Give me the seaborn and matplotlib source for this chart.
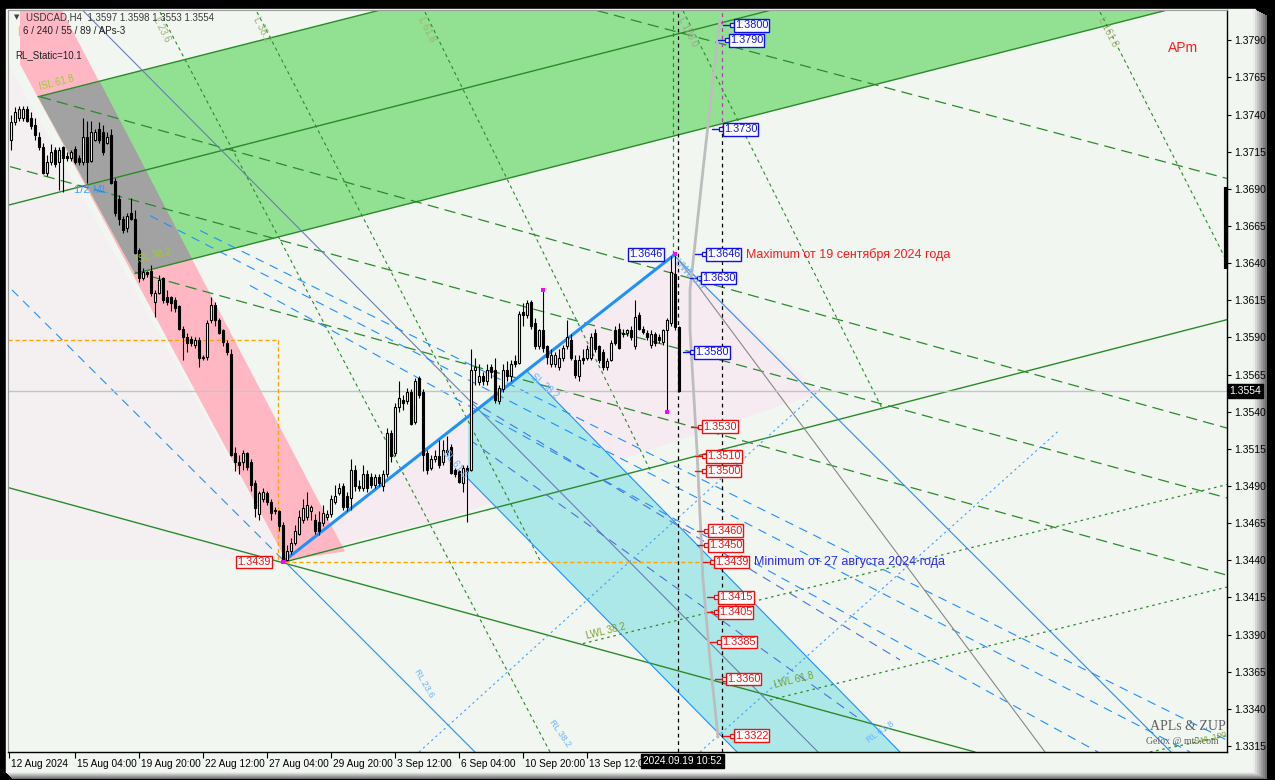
import numpy as np
import pandas as pd
import seaborn as sns
import matplotlib
matplotlib.use("Agg")
import matplotlib.pyplot as plt
from matplotlib.patches import Polygon, Rectangle
import matplotlib.transforms as mtransforms

# USDCAD H4 candles, first candle sits on bar 3 (4 px per bar)
opens = [
    1.3723, 1.3735, 1.3738, 1.3738, 1.3744, 1.3738, 1.3733, 1.3725, 1.3718, 1.3701, 1.3708, 1.3716,
    1.3708, 1.3718, 1.3712, 1.3711, 1.3717, 1.3711, 1.3708, 1.3725, 1.3709, 1.3723, 1.3730, 1.3728,
    1.3721, 1.3726, 1.3695, 1.3683, 1.3670, 1.3664, 1.3674, 1.3670, 1.3649, 1.3630, 1.3634, 1.3635,
    1.3614, 1.3620, 1.3630, 1.3617, 1.3617, 1.3615, 1.3611, 1.3596, 1.3590, 1.3589, 1.3585, 1.3588,
    1.3577, 1.3577, 1.3602, 1.3612, 1.3602, 1.3595, 1.3586, 1.3579, 1.3512, 1.3506, 1.3506, 1.3512,
    1.3506, 1.3492, 1.3471, 1.3481, 1.3485, 1.3479, 1.3474, 1.3473, 1.3464, 1.3440, 1.3446, 1.3452,
    1.3458, 1.3467, 1.3469, 1.3473, 1.3467, 1.3466, 1.3465, 1.3469, 1.3471, 1.3479, 1.3485, 1.3490,
    1.3483, 1.3482, 1.3501, 1.3490, 1.3489, 1.3498, 1.3496, 1.3491, 1.3496, 1.3490, 1.3498, 1.3526,
    1.3512, 1.3543, 1.3548, 1.3547, 1.3553, 1.3533, 1.3563, 1.3553, 1.3512, 1.3502, 1.3508, 1.3510,
    1.3506, 1.3514, 1.3516, 1.3501, 1.3500, 1.3492, 1.3502, 1.3501, 1.3568, 1.3560, 1.3564, 1.3561,
    1.3570, 1.3568, 1.3547, 1.3555, 1.3568, 1.3564, 1.3574, 1.3573, 1.3607, 1.3605, 1.3614, 1.3600,
    1.3584, 1.3595, 1.3584, 1.3572, 1.3572, 1.3570, 1.3576, 1.3584, 1.3588, 1.3575, 1.3564, 1.3576,
    1.3576, 1.3576, 1.3593, 1.3584, 1.3580, 1.3570, 1.3575, 1.3595, 1.3596, 1.3593, 1.3593, 1.3595,
    1.3584, 1.3605, 1.3596, 1.3593, 1.3585, 1.3592, 1.3590, 1.3587, 1.3595, 1.3600, 1.3633, 1.3597,
]
highs = [
    1.3740, 1.3745, 1.3746, 1.3746, 1.3746, 1.3742, 1.3738, 1.3728, 1.3721, 1.3713, 1.3720, 1.3718,
    1.3718, 1.3719, 1.3715, 1.3716, 1.3719, 1.3713, 1.3738, 1.3736, 1.3736, 1.3730, 1.3735, 1.3733,
    1.3728, 1.3730, 1.3697, 1.3686, 1.3672, 1.3674, 1.3684, 1.3676, 1.3650, 1.3637, 1.3635, 1.3639,
    1.3622, 1.3632, 1.3631, 1.3622, 1.3618, 1.3617, 1.3612, 1.3598, 1.3593, 1.3591, 1.3590, 1.3590,
    1.3578, 1.3602, 1.3617, 1.3614, 1.3603, 1.3596, 1.3588, 1.3582, 1.3516, 1.3511, 1.3514, 1.3513,
    1.3508, 1.3494, 1.3487, 1.3489, 1.3487, 1.3481, 1.3476, 1.3474, 1.3466, 1.3450, 1.3455, 1.3464,
    1.3474, 1.3481, 1.3486, 1.3477, 1.3471, 1.3473, 1.3477, 1.3474, 1.3484, 1.3491, 1.3492, 1.3492,
    1.3486, 1.3508, 1.3504, 1.3494, 1.3504, 1.3501, 1.3499, 1.3498, 1.3498, 1.3501, 1.3529, 1.3528,
    1.3546, 1.3561, 1.3551, 1.3556, 1.3555, 1.3563, 1.3564, 1.3555, 1.3514, 1.3511, 1.3514, 1.3521,
    1.3521, 1.3524, 1.3518, 1.3502, 1.3501, 1.3504, 1.3504, 1.3582, 1.3576, 1.3572, 1.3567, 1.3572,
    1.3572, 1.3576, 1.3558, 1.3572, 1.3574, 1.3575, 1.3578, 1.3608, 1.3613, 1.3615, 1.3615, 1.3603,
    1.3596, 1.3622, 1.3585, 1.3582, 1.3580, 1.3582, 1.3585, 1.3602, 1.3592, 1.3578, 1.3578, 1.3582,
    1.3585, 1.3593, 1.3596, 1.3585, 1.3582, 1.3576, 1.3588, 1.3598, 1.3600, 1.3596, 1.3596, 1.3598,
    1.3615, 1.3607, 1.3598, 1.3595, 1.3595, 1.3594, 1.3592, 1.3596, 1.3603, 1.3645, 1.3646, 1.3598,
]
lows = [
    1.3716, 1.3733, 1.3736, 1.3736, 1.3735, 1.3730, 1.3723, 1.3716, 1.3700, 1.3699, 1.3706, 1.3705,
    1.3689, 1.3688, 1.3709, 1.3709, 1.3707, 1.3706, 1.3706, 1.3694, 1.3708, 1.3722, 1.3721, 1.3713,
    1.3720, 1.3693, 1.3672, 1.3666, 1.3660, 1.3661, 1.3669, 1.3646, 1.3627, 1.3629, 1.3631, 1.3618,
    1.3604, 1.3619, 1.3613, 1.3612, 1.3608, 1.3607, 1.3595, 1.3575, 1.3580, 1.3584, 1.3583, 1.3570,
    1.3575, 1.3575, 1.3600, 1.3598, 1.3592, 1.3584, 1.3578, 1.3510, 1.3500, 1.3498, 1.3501, 1.3501,
    1.3487, 1.3469, 1.3467, 1.3479, 1.3477, 1.3467, 1.3471, 1.3460, 1.3439, 1.3440, 1.3444, 1.3450,
    1.3457, 1.3465, 1.3467, 1.3467, 1.3458, 1.3457, 1.3463, 1.3467, 1.3469, 1.3478, 1.3484, 1.3474,
    1.3473, 1.3474, 1.3487, 1.3487, 1.3487, 1.3486, 1.3489, 1.3489, 1.3490, 1.3487, 1.3496, 1.3506,
    1.3510, 1.3540, 1.3541, 1.3545, 1.3531, 1.3532, 1.3549, 1.3500, 1.3498, 1.3501, 1.3506, 1.3502,
    1.3504, 1.3511, 1.3498, 1.3496, 1.3492, 1.3486, 1.3466, 1.3500, 1.3558, 1.3558, 1.3558, 1.3558,
    1.3563, 1.3546, 1.3545, 1.3553, 1.3561, 1.3561, 1.3570, 1.3572, 1.3598, 1.3603, 1.3596, 1.3582,
    1.3582, 1.3580, 1.3572, 1.3570, 1.3570, 1.3568, 1.3574, 1.3582, 1.3575, 1.3563, 1.3561, 1.3572,
    1.3575, 1.3575, 1.3580, 1.3573, 1.3568, 1.3568, 1.3574, 1.3585, 1.3582, 1.3590, 1.3591, 1.3588,
    1.3582, 1.3595, 1.3592, 1.3588, 1.3583, 1.3584, 1.3586, 1.3585, 1.3540, 1.3598, 1.3595, 1.3553,
]
closes = [
    1.3735, 1.3742, 1.3744, 1.3744, 1.3736, 1.3732, 1.3726, 1.3718, 1.3701, 1.3708, 1.3715, 1.3707,
    1.3716, 1.3711, 1.3711, 1.3715, 1.3708, 1.3708, 1.3725, 1.3708, 1.3728, 1.3728, 1.3723, 1.3715,
    1.3725, 1.3694, 1.3674, 1.3670, 1.3662, 1.3672, 1.3670, 1.3647, 1.3630, 1.3634, 1.3633, 1.3620,
    1.3620, 1.3629, 1.3615, 1.3614, 1.3613, 1.3610, 1.3596, 1.3590, 1.3586, 1.3586, 1.3588, 1.3576,
    1.3576, 1.3600, 1.3612, 1.3602, 1.3593, 1.3587, 1.3580, 1.3511, 1.3506, 1.3504, 1.3512, 1.3503,
    1.3491, 1.3475, 1.3485, 1.3486, 1.3479, 1.3472, 1.3473, 1.3463, 1.3440, 1.3446, 1.3452, 1.3460,
    1.3469, 1.3475, 1.3477, 1.3476, 1.3460, 1.3460, 1.3472, 1.3471, 1.3481, 1.3483, 1.3489, 1.3476,
    1.3476, 1.3501, 1.3490, 1.3489, 1.3498, 1.3489, 1.3491, 1.3496, 1.3492, 1.3498, 1.3526, 1.3510,
    1.3543, 1.3549, 1.3546, 1.3553, 1.3532, 1.3561, 1.3551, 1.3511, 1.3501, 1.3508, 1.3510, 1.3504,
    1.3514, 1.3513, 1.3499, 1.3498, 1.3493, 1.3502, 1.3500, 1.3568, 1.3570, 1.3564, 1.3561, 1.3568,
    1.3567, 1.3548, 1.3556, 1.3568, 1.3564, 1.3572, 1.3572, 1.3606, 1.3605, 1.3613, 1.3598, 1.3584,
    1.3595, 1.3583, 1.3577, 1.3578, 1.3578, 1.3576, 1.3583, 1.3590, 1.3576, 1.3565, 1.3575, 1.3575,
    1.3582, 1.3590, 1.3582, 1.3575, 1.3570, 1.3574, 1.3586, 1.3586, 1.3583, 1.3592, 1.3595, 1.3590,
    1.3604, 1.3596, 1.3594, 1.3590, 1.3592, 1.3586, 1.3588, 1.3595, 1.3602, 1.3634, 1.3597, 1.3554,
]
first_bar = 3

# time axis labels (one every 16 bars)
date_ticks = [2.5, 19, 35, 51, 67, 83, 99, 115, 131, 147]
date_labels = ["12 Aug 2024", "15 Aug 04:00", "19 Aug 20:00", "22 Aug 12:00", "27 Aug 04:00",
               "29 Aug 20:00", "3 Sep 12:00", "6 Sep 04:00", "10 Sep 20:00", "13 Sep 12:00"]
price_ticks = [round(1.3315 + 0.0025 * k, 4) for k in range(20)]

# target levels printed beside the forecast line
blue_levels = [1.3800, 1.3790, 1.3730, 1.3646, 1.3630, 1.3580]
red_levels = [1.3530, 1.3510, 1.3500, 1.3460, 1.3450, 1.3439, 1.3415, 1.3405, 1.3385, 1.3360, 1.3322]
blue_label_x = [183.5, 182.25, 180.75, 176.5, 175.25, 173.5]
red_label_x = [175.5, 176.5, 176.5, 177, 177, 178.5, 179.5, 179.5, 180.25, 181.5, 183.5]

# gray forecast path
path_bar = [180.25, 176.25, 172.75, 172.75, 174.5, 176.0, 177.75, 179.75]
path_price = [1.3804, 1.3709, 1.3622, 1.3595, 1.3514, 1.3427, 1.3373, 1.3321]

df = pd.DataFrame({"open": opens, "high": highs, "low": lows, "close": closes})
df["bar"] = np.arange(first_bar, first_bar + len(df))

sns.set_style("white")
plt.rcParams["font.family"] = ["Liberation Sans", "DejaVu Sans"]

W, H = 1275, 780
fig = plt.figure(figsize=(W / 100, H / 100), dpi=100, facecolor="black")

# window frame with grey bevel
bg = fig.add_axes([0, 0, 1, 1], zorder=0)
bg.set_xlim(0, W)
bg.set_ylim(H, 0)
bg.axis("off")
bg.add_patch(Rectangle((6, 9), 1249, 763, color="#f1f6f1"))
shades = ["#ececec", "#d8d8d8", "#c4c4c4", "#b0b0b0", "#9a9a9a", "#848484", "#6c6c6c"]
for i, c in enumerate(shades):
    bg.add_patch(Rectangle((1253 + 2 * i, 9 + i), 2, 770 - i, color=c, lw=0))
    bg.add_patch(Rectangle((6 + i, 772 + i), 1261 - i, 1, color=c, lw=0))

ax = fig.add_axes([8 / W, 1 - 752 / H, (1227 - 8) / W, (752 - 10) / H], zorder=1)
ax.set_facecolor("#f1f6f1")

# filled zones
fills = [
    ([(2.25, 1.3774), (71.75, 1.3440), (2.25, 1.3440)], "#f4f0f2"),
    ([(72.25, 1.3442), (168.5, 1.3646), (205.25, 1.3553), (111.5, 1.3468)], "#f6ebf1"),
    ([(5.25, 1.3810), (15.75, 1.3810), (86.5, 1.3446), (71.75, 1.3440), (5.25, 1.3774)], "#ffb8c3"),
    ([(9.75, 1.3752), (94.75, 1.3810), (291.5, 1.3810), (34.0, 1.3633)], "#92e192"),
    ([(9.75, 1.3752), (25.25, 1.3762), (48.25, 1.3643), (34.0, 1.3633)], "#a2a2a2"),
    ([(117.25, 1.3536), (131.75, 1.3568), (225.25, 1.3311), (184.5, 1.3311), (117.25, 1.3495)], "#ace8e8"),
]
for pts, col in fills:
    ax.add_patch(Polygon(pts, closed=True, fc=col, ec="none", zorder=1))

green = "#2a8a2a"
seg_styles = {
    "solid": dict(color=green, lw=1.0, ls="-"),
    "long": dict(color=green, lw=0.9, ls=(0, (9, 5))),
    "steep": dict(color=green, lw=0.8, ls=(0, (3, 3))),
    "dot": dict(color=green, lw=0.9, ls=(0, (2, 3))),
    "blue": dict(color="#1e90ff", lw=0.8, ls="-"),
    "bdash": dict(color="#1e90ff", lw=0.8, ls=(0, (8, 6))),
    "royal": dict(color="#4f6fe0", lw=0.8, ls=(0, (8, 6))),
    "bdot": dict(color="#3ea0ff", lw=0.8, ls=(0, (2, 3))),
    "slate": dict(color="#6b7db3", lw=0.8, ls="-"),
    "grey": dict(color="#888888", lw=0.8, ls="-"),
}
segments = [
    ("solid", (9.75, 1.3752), (94.75, 1.3810)),
    ("solid", (2.25, 1.3679), (192.5, 1.3810)),
    ("solid", (34.0, 1.3633), (291.5, 1.3810)),
    ("solid", (71.5, 1.3439), (307.0, 1.3602)),
    ("solid", (2.25, 1.3489), (244.0, 1.3311)),
    ("long", (149.5, 1.3810), (307.0, 1.3697)),
    ("long", (2.75, 1.3705), (307.0, 1.3482)),
    ("long", (34.0, 1.3634), (307.0, 1.3430)),
    ("long", (10.25, 1.3752), (307.0, 1.3529)),
    ("steep", (40.25, 1.3809), (137.75, 1.3311)),
    ("steep", (64.5, 1.3809), (135.25, 1.3440)),
    ("steep", (106.5, 1.3809), (162.75, 1.3501)),
    ("steep", (171.0, 1.3810), (221.0, 1.3541)),
    ("steep", (275.25, 1.3809), (307.0, 1.3641)),
    ("dot", (146.0, 1.3384), (307.0, 1.3491)),
    ("dot", (192.75, 1.3346), (307.0, 1.3422)),
    ("dot", (287.75, 1.3311), (307.0, 1.3322)),
    ("slate", (21.0, 1.3810), (204.75, 1.3311)),
    ("blue", (168.5, 1.3646), (293.0, 1.3311)),
    ("blue", (131.75, 1.3568), (225.25, 1.3311)),
    ("blue", (71.5, 1.3439), (119.0, 1.3311)),
    ("blue", (117.25, 1.3495), (184.5, 1.3311)),
    ("bdash", (3.25, 1.3622), (71.5, 1.3439)),
    ("bdash", (37.75, 1.3672), (297.75, 1.3311)),
    ("bdash", (50.25, 1.3662), (307.0, 1.3319)),
    ("bdash", (62.75, 1.3625), (274.75, 1.3311)),
    ("royal", (117.75, 1.3548), (225.25, 1.3373)),
    ("royal", (117.75, 1.3521), (215.25, 1.3333)),
    ("bdot", (105.0, 1.3311), (205.25, 1.3555)),
    ("bdot", (175.25, 1.3311), (265.25, 1.3528)),
    ("grey", (170.25, 1.3641), (261.5, 1.3311)),
]
for style, p0, p1 in segments:
    ax.plot([p0[0], p1[0]], [p0[1], p1[1]], zorder=2, **seg_styles[style])

last = df.iloc[-1]
# current price, min/max guides, vertical markers
ax.axhline(last.close, color="#c4c4c4", lw=1, zorder=2)
orange = "#ffa500"
ax.plot([2.25, 69.75], [1.3588, 1.3588], color=orange, lw=1, ls=(0, (3, 2)), zorder=2)
ax.plot([69.75, 69.75], [1.3588, 1.3439], color=orange, lw=1, ls=(0, (3, 2)), zorder=2)
ax.plot([71.5, 175.25], [1.3439, 1.3439], color=orange, lw=1, ls=(0, (3, 2)), zorder=2)
ax.plot([168.5, 168.5], [1.3646, 1.3810], color=green, lw=0.9, ls=(0, (3, 3)), zorder=2)
ax.axvline(169.75, color="black", lw=0.9, ls=(0, (3, 3)), zorder=6)
ax.plot([180.75, 180.75], [1.3311, 1.3730], color="black", lw=0.9, ls=(0, (3, 3)), zorder=6)
ax.plot([180.75, 180.75], [1.3730, 1.3810], color="#b040b0", lw=0.9, ls=(0, (3, 3)), zorder=6)

# candles
up = df.close >= df.open
ax.vlines(df.bar, df.low, df.high, color="black", lw=0.8, zorder=4)
ax.bar(df.bar[up], (df.close - df.open)[up].clip(lower=0.00003), bottom=df.open[up],
       width=0.55, color="white", edgecolor="black", lw=0.8, zorder=5)
ax.bar(df.bar[~up], (df.open - df.close)[~up].clip(lower=0.00003), bottom=df.close[~up],
       width=0.55, color="black", edgecolor="black", lw=0.8, zorder=5)

# ZUP leg from the August low to the September high
i_lo = df.low.idxmin()
i_hi = df.high[i_lo:].idxmax()
zup = pd.DataFrame({"bar": [df.bar[i_lo], df.bar[i_hi]], "price": [df.low[i_lo], df.high[i_hi]]})
sns.lineplot(data=zup, x="bar", y="price", color="#1e90ff", lw=2.2, ax=ax, zorder=3)

# fractal dots
piv = pd.DataFrame({"bar": [df.bar[i_lo], df.bar[i_hi], 136, 167],
                    "price": [df.low[i_lo], df.high[i_hi],
                              df.high[136 - first_bar], df.low[167 - first_bar]]})
sns.scatterplot(data=piv, x="bar", y="price", color="#ff00ff", marker="s", s=8,
                edgecolor="none", ax=ax, zorder=7)

# forecast path and level tags
ax.plot(path_bar, path_price, color="#bdbdbd", lw=2, zorder=3)


def tag(xb, p, col, ha="left"):
    if ha == "left":
        ax.plot([xb - 2.6, xb], [p, p], color=col, lw=1, zorder=7)
        ax.plot(xb - 0.3, p, marker="s", ms=3, mfc="white", mec=col, mew=0.9, zorder=8)
        tx = xb + 0.45
    else:
        tx = xb - 0.45
    ax.text(tx, p, f"{p:.4f}", color=col, fontsize=7.8, ha=ha, va="center", zorder=9,
            bbox=dict(boxstyle="square,pad=0.12", fc="white", ec=col, lw=1))


for xb, p in zip(blue_label_x, blue_levels):
    tag(xb, p, "#1010ee")
for xb, p in zip(red_label_x, red_levels):
    tag(xb, p, "#ee1010")
tag(166.3, df.high[i_hi], "#1010ee", ha="right")
tag(68.3, df.low[i_lo], "#ee1010", ha="right")

ax.text(186.75, df.high[i_hi], "Maximum от 19 сентября 2024 года", color="#ff1a1a",
        fontsize=9, va="center", zorder=9)
ax.text(188.75, df.low[i_lo], "Minimum от 27 августа 2024 года", color="#2a2aee",
        fontsize=9, va="center", zorder=9)

# level names of the tools
small = [
    ("1/2 ML", 18.75, 1.3689, 0, "#3d9bff", 8),
    ("ISL 61.8", 10.25, 1.3755, 14, "#9acd32", 7),
    ("ISL 38.2", 34.5, 1.3639, 14, "#9acd32", 7),
    ("L 23.6", 40.25, 1.3807, -63, "#a0b070", 7),
    ("L 38.2", 65.25, 1.3807, -63, "#a0b070", 7),
    ("L 61.8", 106.5, 1.3807, -63, "#a0b070", 7),
    ("L 100.0", 171.5, 1.3807, -63, "#98a890", 7),
    ("L 161.8", 276.5, 1.3807, -63, "#a0b070", 7),
    ("UWL 0.0", 170.25, 1.3644, -45, "#6ab4ff", 7),
    ("SL 38.2", 134.0, 1.3567, -40, "#6ab4ff", 7),
    ("SL 61.8", 112.25, 1.3516, -50, "#6ab4ff", 7),
    ("RL 23.6", 105.25, 1.3368, -60, "#6ab4ff", 6.5),
    ("RL 38.2", 139.0, 1.3334, -55, "#6ab4ff", 6.5),
    ("RL 61.8", 217.75, 1.3316, 35, "#6ab4ff", 6.5),
    ("LWL 38.2", 147.0, 1.3386, 14, "#7aa030", 7),
    ("LWL 61.8", 194.0, 1.3353, 14, "#7aa030", 7),
    ("LWL 100", 299.0, 1.3315, 14, "#7aa030", 6),
]
for s, xb, p, rot, col, fs in small:
    va = "top" if rot < 0 else ("bottom" if rot > 0 else "center")
    ax.text(xb, p, s, color=col, fontsize=fs, rotation=rot, rotation_mode="anchor",
            ha="left", va=va, zorder=8)

# axes look
ax.set_xlim(2.25, 307)
ax.set_ylim(1.3311, 1.38104)
ax.set_xlabel("")
ax.set_ylabel("")
for side in ["left", "top"]:
    ax.spines[side].set_color("#9a9a9a")
for side in ["right", "bottom"]:
    ax.spines[side].set_color("black")
    ax.spines[side].set_linewidth(1)
ax.yaxis.tick_right()
ax.set_yticks(price_ticks)
ax.set_yticklabels([f"{v:.4f}" for v in price_ticks])
ax.tick_params(axis="y", right=True, left=False, labelright=True, labelleft=False,
               length=3, width=0.8, color="black", pad=2, labelsize=7.5, labelcolor="black")
ax.set_xticks(date_ticks)
ax.set_xticklabels(date_labels, ha="left")
ax.tick_params(axis="x", bottom=True, length=4, width=0.8, color="black", pad=1,
               labelsize=7.3, labelcolor="black")
shift = mtransforms.ScaledTranslation(2 / 100, 0, fig.dpi_scale_trans)
for lab in ax.get_xticklabels():
    lab.set_transform(lab.get_transform() + shift)

# current price tag and range bar on the price scale
ax.text(1.002, last.close, f"{last.close:.4f}", transform=ax.get_yaxis_transform(),
        color="white", fontsize=7.5, va="center", ha="left",
        bbox=dict(boxstyle="square,pad=0.15", fc="black", ec="black"))
ax.plot([306.7, 306.7], [1.3636, 1.3691], color="black", lw=3, clip_on=False,
        solid_capstyle="butt", zorder=9)

# header, watermark and time tag
fig.text(14 / W, 1 - 17 / H, "\u25bc", fontsize=5, color="#404040", va="center",
         family="DejaVu Sans")
fig.text(26 / W, 1 - 17 / H,
         f"USDCAD,H4  {last.open:.4f} {last.high:.4f} {last.low:.4f} {last.close:.4f}",
         fontsize=7, color="#383838", va="center")
fig.text(17 / W, 1 - 31 / H, "|", fontsize=7, color=orange, va="center")
fig.text(23 / W, 1 - 31 / H, "6 / 240 / 55 / 89 / APs-3", fontsize=7, color="#202020", va="center")
fig.text(15 / W, 1 - 55 / H, "RL_Static=10.1", fontsize=7, color="#202020", va="center")
fig.text(1168 / W, 1 - 48 / H, "APm", fontsize=10, color="#ff2020", va="center")
fig.text(1150 / W, 1 - 727 / H, "APLs & ZUP", fontsize=10, color="#606060", va="center",
         family="Liberation Serif")
fig.text(1146 / W, 1 - 742 / H, "Gelox @ mt5.com", fontsize=7, color="#606060", va="center",
         family="Liberation Serif")
fig.text(643 / W, 1 - 761 / H, "2024.09.19 10:52", fontsize=7.3, color="white", va="center",
         bbox=dict(boxstyle="square,pad=0.2", fc="black", ec="black"))

fig.savefig("out.png", dpi=100, facecolor="black")
